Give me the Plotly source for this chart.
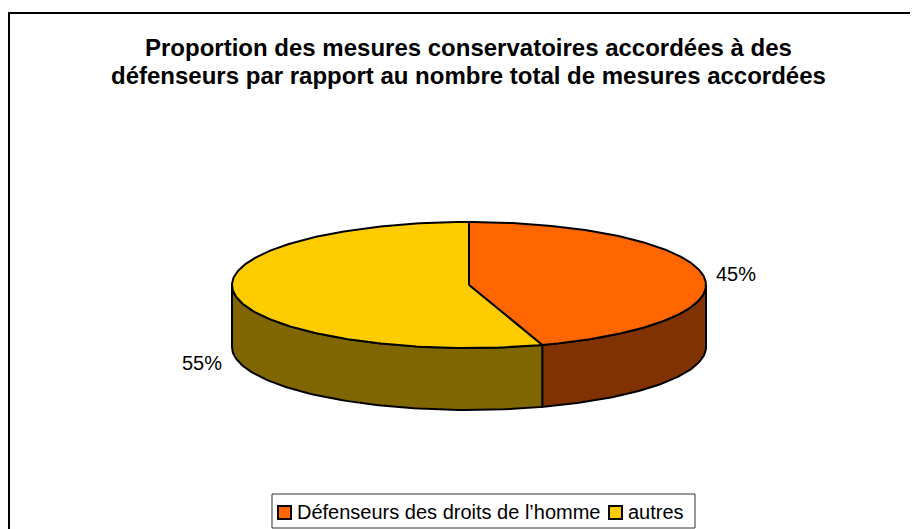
import numpy as np
import plotly.graph_objects as go

title_lines = ["Proportion des mesures conservatoires accordées à des",
               "défenseurs par rapport au nombre total de mesures accordées"]
categories = ["Défenseurs des droits de l’homme", "autres"]
values = [45, 55]
top_colors = ["#FF6600", "#FFCC00"]
side_colors = ["#803300", "#806600"]

W, H = 918, 529
OFF = 8  # page body margin
cx, cy, a, b, depth = 469, 285, 237, 63, 62
FONT = "Liberation Sans, Arial, sans-serif"

fig = go.Figure()

total = sum(values)
starts, ends = [], []
ang = 90.0
for v in values:
    starts.append(ang)
    ang -= 360.0 * v / total
    ends.append(ang)


def ell(t):
    r = np.radians(t)
    return cx + a * np.cos(r), cy - b * np.sin(r)


# side faces (visible front part: angles between -180 and 0)
for i in range(len(values)):
    s, e = starts[i], ends[i]
    for shift in (0, -360, 360):
        fl, fh = max(e + shift, -180), min(s + shift, 0)
        if fh > fl:
            t = np.linspace(fh, fl, 80)
            x1, y1 = ell(t)
            xs = list(x1) + list(x1[::-1]) + [x1[0]]
            ys = list(y1) + list((y1 + depth)[::-1]) + [y1[0]]
            fig.add_trace(go.Scatter(x=xs, y=ys, mode="lines", fill="toself",
                                     fillcolor=side_colors[i],
                                     line=dict(color="black", width=2),
                                     hoverinfo="skip", showlegend=False))

# tops
for i in range(len(values)):
    t = np.linspace(starts[i], ends[i], 200)
    x1, y1 = ell(t)
    xs = [cx] + list(x1) + [cx]
    ys = [cy] + list(y1) + [cy]
    fig.add_trace(go.Scatter(x=xs, y=ys, mode="lines", fill="toself",
                             fillcolor=top_colors[i],
                             line=dict(color="black", width=2),
                             hoverinfo="skip", showlegend=False))

annotations = []
# percentage labels
for i, v in enumerate(values):
    mid = (starts[i] + ends[i]) / 2
    r = np.radians(mid)
    lx = cx + a * 1.045 * np.cos(r)
    ly = cy - b * 1.1 * np.sin(r) + (depth + 5 if np.sin(r) < 0 else 0)
    annotations.append(dict(x=lx, y=ly, xref="x", yref="y",
                            text=f"{round(100 * v / total)}%", showarrow=False,
                            xanchor="left" if np.cos(r) > 0 else "right",
                            yanchor="middle",
                            font=dict(family=FONT, size=20, color="black")))

# title
for k, line in enumerate(title_lines):
    annotations.append(dict(x=468, y=47 + 28 * k, xref="x", yref="y",
                            text="<b>" + line + "</b>", showarrow=False,
                            xanchor="center", yanchor="middle",
                            font=dict(family=FONT, size=24, color="black")))

shapes = [dict(type="rect", xref="x", yref="y", x0=9, y0=13, x1=W + 30, y1=H + 30,
               line=dict(color="black", width=2), fillcolor="rgba(0,0,0,0)")]

# legend
lg_x0, lg_y0, lg_x1, lg_y1 = 272, 494, 695, 528
shapes.append(dict(type="rect", xref="x", yref="y", x0=lg_x0, y0=lg_y0, x1=lg_x1, y1=lg_y1,
                   line=dict(color="#333333", width=1), fillcolor="white"))
key_x = [278, 609]
for i, name in enumerate(categories):
    shapes.append(dict(type="rect", xref="x", yref="y", x0=key_x[i], y0=506,
                       x1=key_x[i] + 13, y1=519,
                       line=dict(color="black", width=2), fillcolor=top_colors[i]))
    annotations.append(dict(x=key_x[i] + 17, y=512, xref="x", yref="y", text=name,
                            showarrow=False, xanchor="left", yanchor="middle",
                            font=dict(family=FONT, size=20, color="black")))

fig.update_layout(
    width=W, height=H, margin=dict(l=0, r=0, t=0, b=0),
    paper_bgcolor="white", plot_bgcolor="white",
    xaxis=dict(range=[OFF, W + OFF], visible=False, fixedrange=True),
    yaxis=dict(range=[H + OFF, OFF], visible=False, fixedrange=True),
    shapes=shapes, annotations=annotations, showlegend=False,
)
fig.write_html("out.html")
